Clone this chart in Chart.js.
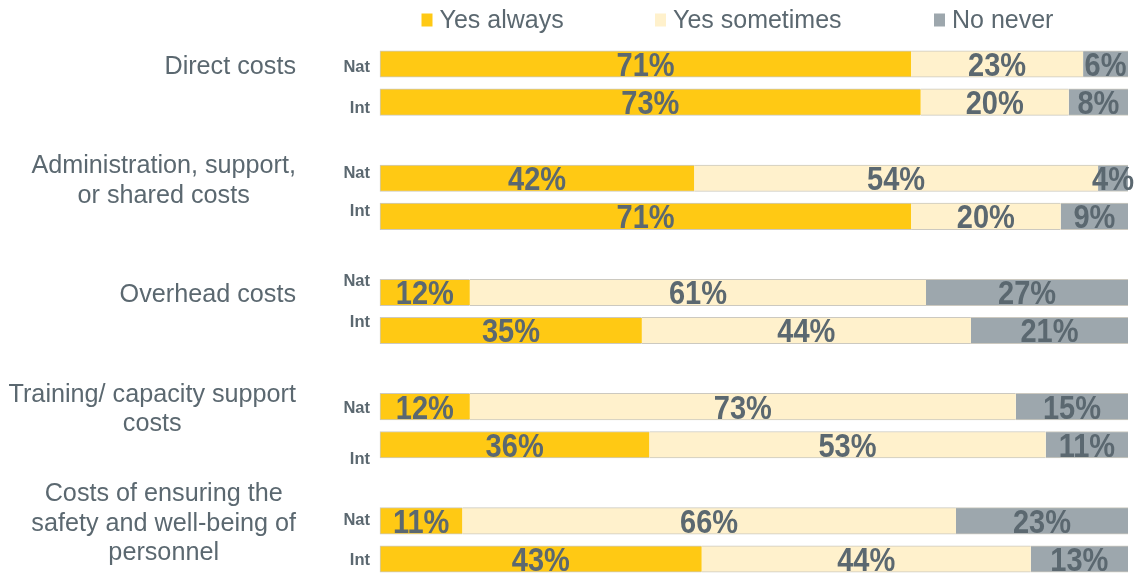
<!DOCTYPE html>
<html>
<head>
<meta charset="utf-8">
<title>Cost coverage: national vs international</title>
<script src="https://cdn.jsdelivr.net/npm/chart.js@4.4.1/dist/chart.umd.min.js"></script>
<style>
  html, body { margin: 0; padding: 0; background: #ffffff; }
  #wrap { width: 1137px; height: 574px; }
</style>
</head>
<body>
<div id="wrap"><canvas id="chart" width="1137" height="574"></canvas></div>
<script>
// Cost categories (one label block per group, split into lines)
const costGroups = [
  ['Direct costs'],
  ['Administration, support,', 'or shared costs'],
  ['Overhead costs'],
  ['Training/ capacity support', 'costs'],
  ['Costs of ensuring the', 'safety and well-being of', 'personnel']
];
// Respondent types shown for each group
const respondentTypes = ['Nat', 'Int'];
// Series names
const seriesNames = ['Yes always', 'Yes sometimes', 'No never'];
// Percentages, ordered group by group: Nat, Int
const yesAlways    = [71, 73, 42, 71, 12, 35, 12, 36, 11, 43];
const yesSometimes = [23, 20, 54, 20, 61, 44, 73, 53, 66, 44];
const noNever      = [ 6,  8,  4,  9, 27, 21, 15, 11, 23, 13];

const seriesValues = [yesAlways, yesSometimes, noNever];
const seriesColors = ['#FFC914', '#FFF1CC', '#9DA7AD'];
const textColor = '#5B6870';

// Build the category slots: Nat, Int, then an empty spacer row between groups
const slotLabels = [];
const slotRow = [];           // index into the value arrays, or -1 for a spacer
let row = 0;
costGroups.forEach((g, gi) => {
  respondentTypes.forEach(t => {
    slotLabels.push(gi + '-' + t);
    slotRow.push(row++);
  });
  if (gi < costGroups.length - 1) {
    slotLabels.push('gap-' + gi);
    slotRow.push(-1);
  }
});

// Each bar is a 100% stack: segment length is the value's share of its row total
const rowTotals = yesAlways.map((v, i) => v + yesSometimes[i] + noNever[i]);
const datasets = seriesNames.map((name, si) => ({
  label: name,
  data: slotRow.map(r => r < 0 ? null : seriesValues[si][r] / rowTotals[r] * 100),
  rawValues: slotRow.map(r => r < 0 ? null : seriesValues[si][r]),
  backgroundColor: seriesColors[si],
  borderColor: 'rgba(170,165,150,0.6)',
  borderWidth: { top: 1, bottom: 1, left: si === 0 ? 1 : 0, right: 0 },
  borderSkipped: false,
  barThickness: 26.5,
  clip: false,
  stack: 'all'
}));

// Small vertical nudges for the Nat/Int captions, one per bar
const typeLabelNudge = [2, 5, -6, -6, -12, -9, 0, 13, -2, 0];

const FONT = '"Liberation Sans", Arial, Helvetica, sans-serif';

const annotate = {
  id: 'annotate',
  afterDatasetsDraw(chart) {
    const ctx = chart.ctx;

    // Percentage labels in the middle of each segment (tall bold digits)
    ctx.save();
    ctx.fillStyle = textColor;
    ctx.font = 'bold 29px ' + FONT;
    ctx.textAlign = 'center';
    ctx.textBaseline = 'alphabetic';
    const stretch = 1.14;
    const capH = 0.716 * 29 * stretch;
    chart.data.datasets.forEach((ds, di) => {
      const meta = chart.getDatasetMeta(di);
      meta.data.forEach((bar, i) => {
        const v = ds.rawValues[i];
        if (v === null || v === undefined) return;
        const cx = (bar.base + bar.x) / 2;
        ctx.save();
        ctx.translate(cx, bar.y + capH / 2);
        ctx.scale(1, stretch);
        ctx.fillText(v + '%', 0, 0);
        ctx.restore();
      });
    });
    ctx.restore();
  },
  afterDraw(chart) {
    const ctx = chart.ctx;
    const y = chart.scales.y;
    const area = chart.chartArea;

    // Nat / Int captions
    ctx.save();
    ctx.fillStyle = textColor;
    ctx.font = 'bold 16.5px ' + FONT;
    ctx.textAlign = 'right';
    ctx.textBaseline = 'alphabetic';
    slotRow.forEach((r, i) => {
      if (r < 0) return;
      const cy = y.getPixelForValue(i) + typeLabelNudge[r];
      ctx.fillText(respondentTypes[r % 2], area.left - 10, cy + 0.716 * 16.5 / 2);
    });
    ctx.restore();

    // Group labels: lines centred on each other, block right-aligned, centred on the Nat bar
    ctx.save();
    ctx.fillStyle = textColor;
    ctx.font = '25.2px ' + FONT;
    ctx.textAlign = 'center';
    ctx.textBaseline = 'alphabetic';
    const lineH = 29.5;
    const rightEdge = area.left - 84;
    costGroups.forEach((lines, gi) => {
      const natSlot = slotLabels.indexOf(gi + '-Nat');
      const c = y.getPixelForValue(natSlot) + 1;
      const maxW = Math.max(...lines.map(l => ctx.measureText(l).width));
      const cx = rightEdge - maxW / 2;
      lines.forEach((l, li) => {
        const capC = c - (lines.length - 1) * lineH / 2 + li * lineH;
        ctx.fillText(l, cx, capC + 0.716 * 24.5 / 2);
      });
    });
    ctx.restore();

    // Legend across the top
    ctx.save();
    ctx.font = '25px ' + FONT;
    ctx.textAlign = 'left';
    ctx.textBaseline = 'alphabetic';
    const legendX = [421.5, 655, 934];
    seriesNames.forEach((name, si) => {
      ctx.fillStyle = seriesColors[si];
      ctx.fillRect(legendX[si], 13.5, 11, 13);
      ctx.fillStyle = textColor;
      ctx.fillText(name, legendX[si] + 18, 28);
    });
    ctx.restore();
  }
};

new Chart(document.getElementById('chart'), {
  type: 'bar',
  data: { labels: slotLabels, datasets },
  options: {
    indexAxis: 'y',
    responsive: false,
    animation: false,
    devicePixelRatio: 1,
    layout: { padding: { left: 380, right: 9, top: 64, bottom: 15 } },
    scales: {
      x: { stacked: true, min: 0, max: 100, display: false },
      y: { stacked: true, display: false, offset: false, grid: { display: false } }
    },
    plugins: {
      legend: { display: false },
      tooltip: { enabled: false }
    }
  },
  plugins: [annotate]
});
</script>
</body>
</html>
